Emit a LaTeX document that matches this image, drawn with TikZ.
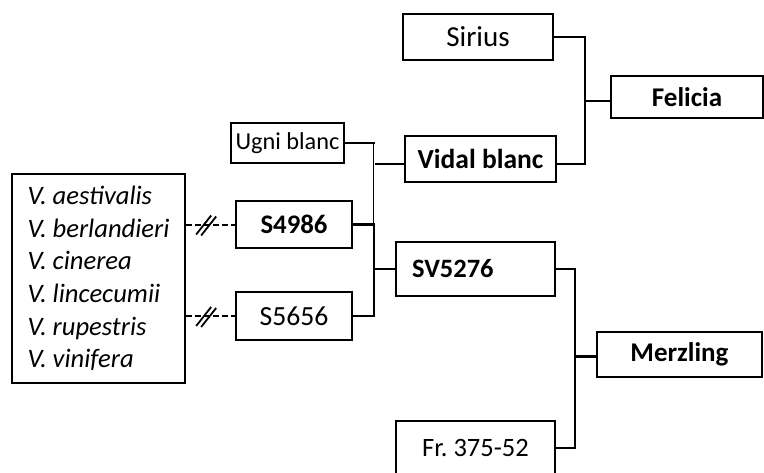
\documentclass[tikz,border=0pt]{standalone}
\usepackage{fontspec}
\setmainfont{Carlito}
\usetikzlibrary{calc}
\begin{document}
\begin{tikzpicture}[x=1pt,y=-1pt,
  box/.style={draw, line width=2.3pt, inner sep=0pt, font=\fontsize{27}{30}\selectfont},
  conn/.style={line width=2.3pt},
  thinconn/.style={line width=1pt},
  dashconn/.style={line width=2pt, dash pattern=on 6pt off 3pt},
  slash/.style={line width=1.8pt}]
\useasboundingbox (0,0) rectangle (764,472);
\fill[white] (0,0) rectangle (764,472);
% nodes
\node[box, minimum width=173pt, minimum height=209pt, align=left,
      font=\fontsize{26.6}{32.6}\selectfont\itshape] (sp) at (98.5,278.5)
  {V. aestivalis\\V. berlandieri\\V. cinerea\\V. lincecumii\\V. rupestris\\V. vinifera};
\node[box, minimum width=113pt, minimum height=40pt, font=\fontsize{24.3}{27}\selectfont] (ugni) at (287.5,143) {Ugni blanc};
\node[box, minimum width=116pt, minimum height=47pt, font=\fontsize{26.8}{30}\selectfont\bfseries] (s4986) at (294,224.5) {S4986};
\node[box, minimum width=116pt, minimum height=48pt, font=\fontsize{27.7}{30}\selectfont] (s5656) at (294,316) {S5656};
\node[box, minimum width=159pt, minimum height=54pt, text width=127pt, align=left, font=\fontsize{26.5}{30}\selectfont\bfseries] (sv) at (475.5,269) {SV5276};
\node[box, minimum width=159pt, minimum height=54pt, font=\fontsize{26.5}{30}\selectfont] (fr) at (475.5,448) {Fr.\ 375-52};
\node[box, minimum width=150pt, minimum height=46pt, font=\fontsize{29}{32}\selectfont] (sirius) at (478,37) {Sirius};
\node[box, minimum width=151pt, minimum height=46pt, font=\fontsize{27.5}{30}\selectfont\bfseries] (vidal) at (480.5,159) {Vidal blanc};
\node[box, minimum width=152pt, minimum height=42pt, font=\fontsize{27}{30}\selectfont\bfseries] (felicia) at (687,97) {Felicia};
\node[box, minimum width=165pt, minimum height=45pt, font=\fontsize{27}{30}\selectfont\bfseries] (merz) at (679.5,354.5) {Merzling};
% dashed links from species
\draw[dashconn] (sp.east |- s4986.west) -- (s4986.west);
\draw[dashconn] (sp.east |- s5656.west) -- (s5656.west);
\coordinate (d1) at ($(sp.east |- s4986.west)+(10,10)$);
\coordinate (d2) at ($(sp.east |- s5656.west)+(10,10)$);
\draw[slash] (d1) -- ++(15,-19);
\draw[slash] ($(d1)+(5,1)$) -- ++(15,-19);
\draw[slash] (d2) -- ++(15,-19);
\draw[slash] ($(d2)+(5,1)$) -- ++(15,-19);
% Ugni blanc
\draw[conn] (ugni.east) -- ++(30,0) coordinate (ut);
\draw[thinconn] ($(ut)+(-2,0)$) coordinate (ut2) -- (ut2 |- s4986.east);
\draw[conn] ($(ut |- vidal.west)+(0,5)$) -- ($(vidal.west)+(0,5)$);
% S4986 / S5656 -> SV5276
\draw[conn] (s4986.east) -- ++(21,0) coordinate (b1) -- (b1 |- s5656.east) -- (s5656.east);
\draw[conn] (b1 |- sv.west) -- (sv.west);
% SV5276 / Fr -> Merzling
\draw[conn] (sv.east) -- ++(19,0) coordinate (b2) -- (b2 |- fr.east) -- (fr.east);
\draw[conn] ($(b2 |- merz.west)+(0,2)$) -- ($(merz.west)+(0,2)$);
% Sirius / Vidal -> Felicia
\draw[conn] (sirius.east) -- ++(31,0) coordinate (b3) -- ($(b3 |- vidal.east)+(0,5)$) -- ($(vidal.east)+(0,5)$);
\draw[conn] ($(b3 |- felicia.west)+(0,4)$) -- ($(felicia.west)+(0,4)$);
\end{tikzpicture}
\end{document}
